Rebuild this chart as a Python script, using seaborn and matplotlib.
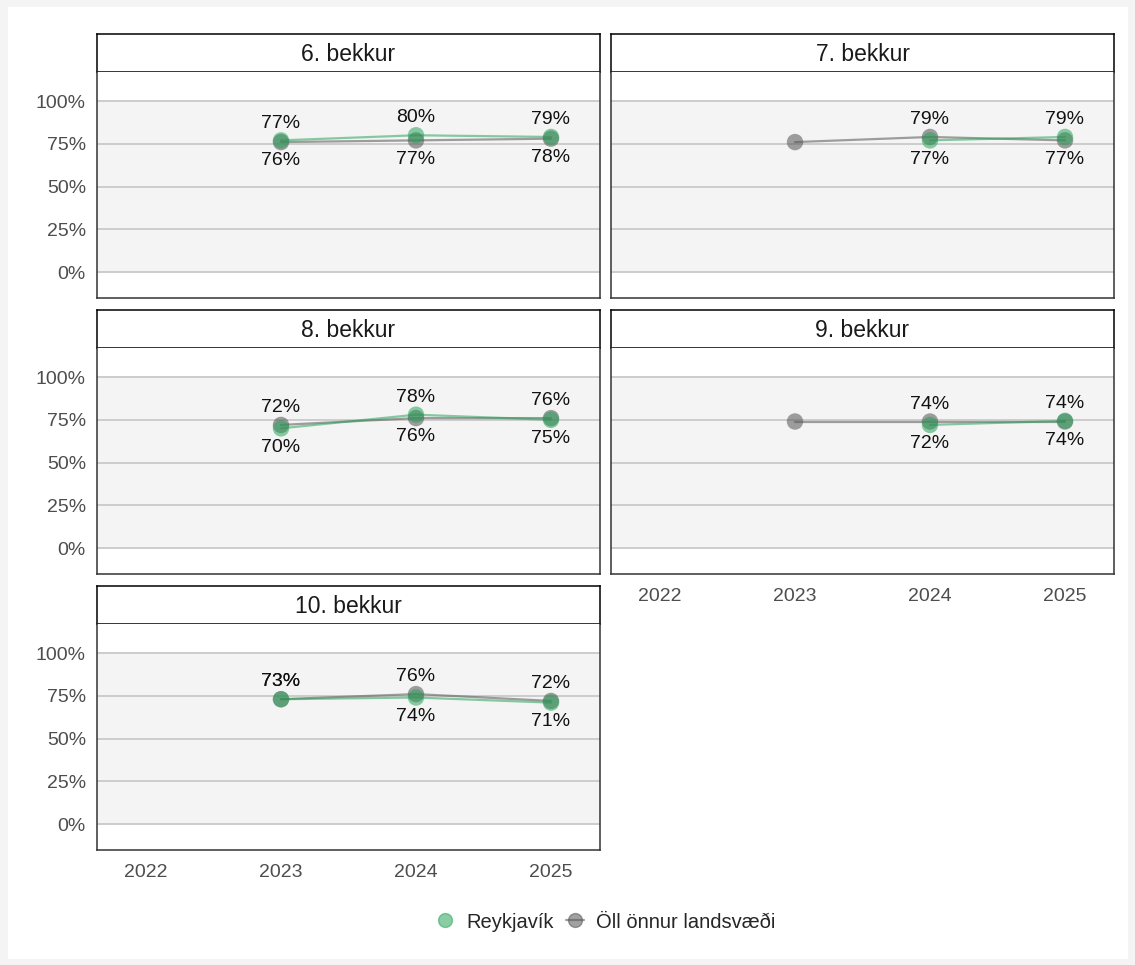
import matplotlib
matplotlib.use("Agg")
import matplotlib.pyplot as plt
import seaborn as sns
import pandas as pd
from matplotlib.lines import Line2D
from matplotlib.patches import Rectangle

# data (percent)
grades = ["6. bekkur", "7. bekkur", "8. bekkur", "9. bekkur", "10. bekkur"]
years_all = [2022, 2023, 2024, 2025]

reyk_years = {
    "6. bekkur": [2023, 2024, 2025],
    "7. bekkur": [2024, 2025],
    "8. bekkur": [2023, 2024, 2025],
    "9. bekkur": [2024, 2025],
    "10. bekkur": [2023, 2024, 2025],
}
reyk_vals = {
    "6. bekkur": [77, 80, 79],
    "7. bekkur": [77, 79],
    "8. bekkur": [70, 78, 75],
    "9. bekkur": [72, 74.4],
    "10. bekkur": [73, 74, 71],
}
other_years = [2023, 2024, 2025]
other_vals = {
    "6. bekkur": [76, 77, 78],
    "7. bekkur": [76, 79, 77],
    "8. bekkur": [72, 76, 76],
    "9. bekkur": [74, 74, 74],
    "10. bekkur": [73, 76, 72],
}

REYK = "Reykjavík"
OTHER = "Öll önnur landsvæði"

rows = []
for g in grades:
    for y, v in zip(reyk_years[g], reyk_vals[g]):
        rows.append({"grade": g, "year": y, "value": v, "area": REYK})
    for y, v in zip(other_years, other_vals[g]):
        rows.append({"grade": g, "year": y, "value": v, "area": OTHER})
df = pd.DataFrame(rows)

sns.set_style("white")
plt.rcParams["font.family"] = ["Liberation Sans", "DejaVu Sans"]

green = "#2aa55a"
grey = "#555555"
alpha = 0.55

W, H = 1135, 965
fig = plt.figure(figsize=(W / 100, H / 100), dpi=100)
fig.patch.set_facecolor("#f4f4f4")
fig.patches.append(Rectangle((8 / W, 6 / H), 1120 / W, 952 / H, transform=fig.transFigure,
                             facecolor="white", edgecolor="none", zorder=-10))

col_x = [97, 611]
row_y = [34, 310, 586]
pw, sh, ph = 503, 38, 226

for i, g in enumerate(grades):
    r, c = divmod(i, 2)
    x0, y0 = col_x[c], row_y[r]
    sax = fig.add_axes([x0 / W, 1 - (y0 + sh) / H, pw / W, sh / H])
    sax.set_xticks([]); sax.set_yticks([])
    sax.set_facecolor("white")
    for s in sax.spines.values():
        s.set_color("black"); s.set_linewidth(1.1); s.set_visible(True)
    sax.text(0.5, 0.47, g, ha="center", va="center", fontsize=16.5, color="#1a1a1a",
             transform=sax.transAxes)

    ax = fig.add_axes([x0 / W, 1 - (y0 + sh + ph) / H, pw / W, ph / H])
    ax.set_facecolor("white")
    ax.axhspan(0, 100, color="#f4f4f4", zorder=0, lw=0)
    for yv in [0, 25, 50, 75, 100]:
        ax.axhline(yv, color="#cccccc", lw=1.4, zorder=1)

    sub = df[df["grade"] == g]
    oth = sub[sub["area"] == OTHER]
    rk = sub[sub["area"] == REYK]
    sns.lineplot(data=oth, x="year", y="value", color=grey, lw=1.6, alpha=alpha, ax=ax, zorder=3)
    sns.lineplot(data=rk, x="year", y="value", color=green, lw=1.6, alpha=alpha, ax=ax, zorder=4)
    sns.scatterplot(data=oth, x="year", y="value", color=grey, s=140, alpha=alpha,
                    edgecolor="none", ax=ax, zorder=5)
    sns.scatterplot(data=rk, x="year", y="value", color=green, s=140, alpha=alpha,
                    edgecolor="none", ax=ax, zorder=6)

    # value labels where both series exist
    for y, v in zip(rk["year"], rk["value"]):
        ov = oth.loc[oth["year"] == y, "value"].iloc[0]
        for val, cmp in [(v, ov), (ov, v)]:
            up = val >= cmp
            ax.annotate(f"{round(val)}%", (y, val), xytext=(0, 12.5 if up else -13.5),
                        textcoords="offset points", ha="center", va="center",
                        fontsize=14, color="#111111", zorder=7)

    ax.set_xlim(2021.637, 2025.363)
    ax.set_ylim(-15.2, 117)
    ax.set_xlabel(""); ax.set_ylabel("")
    ax.set_yticks([0, 25, 50, 75, 100])
    ax.set_xticks(years_all)
    if c == 0:
        ax.set_yticklabels(["0%", "25%", "50%", "75%", "100%"])
    else:
        ax.set_yticklabels([])
    if i >= 3:
        ax.set_xticklabels([str(y) for y in years_all])
    else:
        ax.set_xticklabels([])
    ax.tick_params(axis="y", length=0, labelsize=14, labelcolor="#4d4d4d", pad=8)
    ax.tick_params(axis="x", length=0, labelsize=14, labelcolor="#4d4d4d", pad=10)
    for s in ax.spines.values():
        s.set_color("#333333"); s.set_linewidth(1.1); s.set_visible(True)
    ax.spines["top"].set_visible(False)
    if ax.get_legend():
        ax.get_legend().remove()

handles = [
    Line2D([], [], marker="o", color=green, lw=0, markersize=10, alpha=alpha),
    Line2D([], [], marker="o", color=grey, lw=1.6, markersize=10, alpha=alpha),
]
fig.legend(handles, [REYK, OTHER], loc="center", bbox_to_anchor=(606 / W, 1 - 922 / H),
           ncol=2, frameon=False, fontsize=14.5, handlelength=0.9, handletextpad=0.6,
           columnspacing=0.6)

fig.savefig("out.png", dpi=100, facecolor=fig.get_facecolor())
